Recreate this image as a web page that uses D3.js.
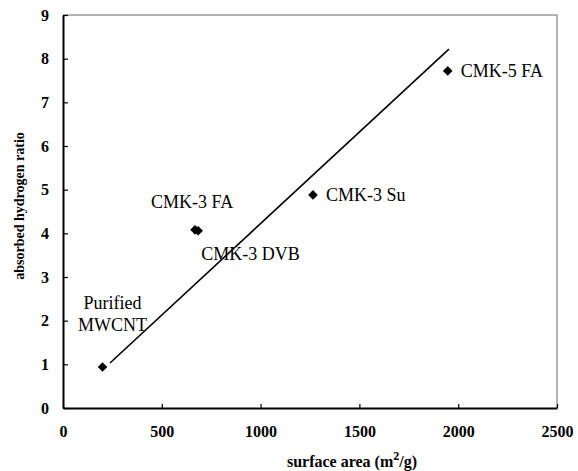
<!DOCTYPE html>
<html>
<head>
<meta charset="utf-8">
<script src="https://cdn.jsdelivr.net/npm/d3@7"></script>
<style>
  html, body { margin: 0; padding: 0; background: #fff; }
  svg { display: block; }
  text { font-family: "Liberation Serif", "Times New Roman", Times, serif; }
</style>
</head>
<body>
<svg id="chart" width="578" height="471"></svg>
<script>
// ---- data ----
const sampleNames = ["Purified MWCNT", "CMK-3 FA", "CMK-3 DVB", "CMK-3 Su", "CMK-5 FA"];
const surfaceArea = [200, 668, 684, 1265, 1947];
const hydrogenRatio = [0.94, 4.08, 4.06, 4.88, 7.72];
const fitX = [238, 1953];
const fitY = [1.03, 8.22];
const xTicks = [0, 500, 1000, 1500, 2000, 2500];
const yTicks = [0, 1, 2, 3, 4, 5, 6, 7, 8, 9];
const xTitle = "surface area (m";
const yTitle = "absorbed hydrogen ratio";

// ---- layout ----
const W = 578, H = 471;
const margin = { left: 63, top: 15, right: 21, bottom: 63 };
const iw = W - margin.left - margin.right;
const ih = H - margin.top - margin.bottom;
// label placement (pixel offsets from the point)
const labelOffsets = [
  { lines: ["Purified", "MWCNT"], dx: 10, dy: [-58, -36], anchor: "middle" },
  { lines: ["CMK-3 FA"], dx: -44, dy: [-22], anchor: "start" },
  { lines: ["CMK-3 DVB"], dx: 3, dy: [29], anchor: "start" },
  { lines: ["CMK-3 Su"], dx: 13, dy: [6], anchor: "start" },
  { lines: ["CMK-5 FA"], dx: 13, dy: [6], anchor: "start" }
];

const svg = d3.select("#chart");
const g = svg.append("g").attr("transform", `translate(${margin.left},${margin.top})`);

const x = d3.scaleLinear().domain([0, 2500]).range([0, iw]);
const y = d3.scaleLinear().domain([0, 9]).range([ih, 0]);

const serif = "Liberation Serif";

// frame: top & right thin
g.append("line").attr("x1", 0).attr("x2", iw).attr("y1", 0).attr("y2", 0)
  .attr("stroke", "#666").attr("stroke-width", 1);
g.append("line").attr("x1", iw).attr("x2", iw).attr("y1", 0).attr("y2", ih)
  .attr("stroke", "#666").attr("stroke-width", 1);

// axes
const xAxis = d3.axisBottom(x).tickValues(xTicks).tickFormat(d3.format("d"))
  .tickSizeInner(-4).tickSizeOuter(0).tickPadding(24);
const yAxis = d3.axisLeft(y).tickValues(yTicks).tickFormat(d3.format("d"))
  .tickSizeInner(-5).tickSizeOuter(0).tickPadding(14);

const gx = g.append("g").attr("transform", `translate(0,${ih})`).call(xAxis);
const gy = g.append("g").call(yAxis);
[gx, gy].forEach(a => {
  a.attr("font-family", null).attr("font-size", null);
  a.select(".domain").attr("stroke", "#000").attr("stroke-width", 2);
  a.selectAll(".tick line").attr("stroke", "#000").attr("stroke-width", 1.2);
  a.selectAll(".tick text").attr("fill", "#000")
    .attr("font-family", serif).attr("font-size", 16).attr("font-weight", "bold");
});
gx.selectAll(".tick text").attr("dy", "0.3em");

// fit line
g.append("line")
  .attr("x1", x(fitX[0])).attr("y1", y(fitY[0]))
  .attr("x2", x(fitX[1])).attr("y2", y(fitY[1]))
  .attr("stroke", "#000").attr("stroke-width", 1.6);

// points (diamonds)
const pts = sampleNames.map((n, i) => ({ name: n, sx: surfaceArea[i], hy: hydrogenRatio[i], lab: labelOffsets[i] }));
const r = 4.8;
g.selectAll("path.pt").data(pts).enter().append("path")
  .attr("class", "pt")
  .attr("d", d => {
    const cx = x(d.sx), cy = y(d.hy);
    return `M${cx},${cy - r}L${cx + r},${cy}L${cx},${cy + r}L${cx - r},${cy}Z`;
  })
  .attr("fill", "#000");

// labels
pts.forEach(d => {
  const cx = x(d.sx), cy = y(d.hy);
  d.lab.lines.forEach((ln, k) => {
    g.append("text")
      .attr("x", cx + d.lab.dx).attr("y", cy + d.lab.dy[k])
      .attr("text-anchor", d.lab.anchor)
      .attr("font-family", serif).attr("font-size", 18)
      .attr("fill", "#000")
      .text(ln);
  });
});

// axis titles
const xt = svg.append("text")
  .attr("x", 352).attr("y", 467)
  .attr("text-anchor", "middle")
  .attr("font-family", serif).attr("font-size", 16).attr("font-weight", "bold")
  .attr("fill", "#000");
xt.append("tspan").text(xTitle);
xt.append("tspan").attr("dy", -7).attr("font-size", 12).text("2");
xt.append("tspan").attr("dy", 7).text("/g)");

svg.append("text")
  .attr("transform", `translate(24,${margin.top + 191}) rotate(-90)`)
  .attr("text-anchor", "middle")
  .attr("font-family", serif).attr("font-size", 14).attr("font-weight", "bold")
  .attr("fill", "#000")
  .text(yTitle);
</script>
</body>
</html>
